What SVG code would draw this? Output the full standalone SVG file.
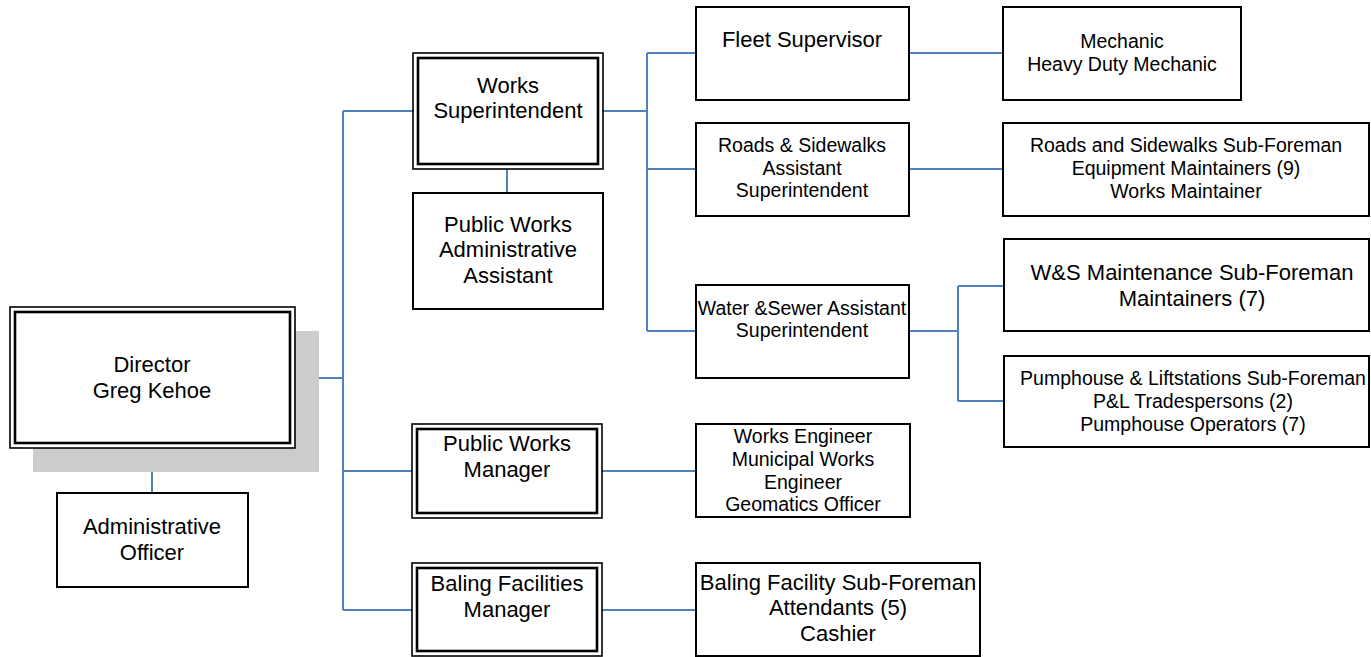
<svg xmlns="http://www.w3.org/2000/svg" width="1371" height="657" viewBox="0 0 1371 657">
<style>
.box{fill:#fff;stroke:#000;stroke-width:2}
.outer{fill:#fff;stroke:#000;stroke-width:1.6}
.inner{fill:none;stroke:#000;stroke-width:2.6}
.shadow{fill:#cccccc}
.c{fill:none;stroke:#4f81bd;stroke-width:2}
text{font-family:"Liberation Sans",Arial,sans-serif;fill:#000;text-anchor:middle}
.l{font-size:22px}
.m{font-size:19.5px}
</style>
<rect width="1371" height="657" fill="#fff"/>
<g id="connectors">
<path class="c" d="M295 378H343M343 111V610M343 111H413M343 471H412M343 610H412"/>
<path class="c" d="M152 448V493M507 169V193"/>
<path class="c" d="M603 111H647M647 53V331M647 53H696M647 169H696M647 331H696"/>
<path class="c" d="M909 53H1003M909 169H1003M909 331H958M958 286V401M958 286H1004M958 401H1004"/>
<path class="c" d="M602 471H696M602 610H696"/>
</g>
<g id="director">
<rect class="shadow" x="33" y="331" width="286" height="141"/>
<rect class="outer" x="10" y="307" width="285" height="141"/>
<rect class="inner" x="15" y="312" width="275" height="131"/>
<text class="l" x="152" y="372">Director</text>
<text class="l" x="152" y="398">Greg Kehoe</text>
</g>
<g id="admin-officer">
<rect class="box" x="57" y="493" width="191" height="94"/>
<text class="l" x="152" y="534">Administrative</text>
<text class="l" x="152" y="560">Officer</text>
</g>
<g id="works-superintendent">
<rect class="outer" x="413" y="53" width="190" height="116"/>
<rect class="inner" x="418" y="58" width="180" height="106"/>
<text class="l" x="508" y="93">Works</text>
<text class="l" x="508" y="118">Superintendent</text>
</g>
<g id="pw-admin-assistant">
<rect class="box" x="413" y="193" width="190" height="116"/>
<text class="l" x="508" y="232">Public Works</text>
<text class="l" x="508" y="257">Administrative</text>
<text class="l" x="508" y="283">Assistant</text>
</g>
<g id="pw-manager">
<rect class="outer" x="412" y="424" width="190" height="94"/>
<rect class="inner" x="417" y="429" width="180" height="84"/>
<text class="l" x="507" y="451">Public Works</text>
<text class="l" x="507" y="477">Manager</text>
</g>
<g id="baling-manager">
<rect class="outer" x="412" y="563" width="190" height="93"/>
<rect class="inner" x="417" y="568" width="180" height="83"/>
<text class="l" x="507" y="591">Baling Facilities</text>
<text class="l" x="507" y="617">Manager</text>
</g>
<g id="fleet-supervisor">
<rect class="box" x="696" y="7" width="213" height="93"/>
<text class="l" x="802" y="47">Fleet Supervisor</text>
</g>
<g id="roads-sidewalks">
<rect class="box" x="696" y="123" width="213" height="93"/>
<text class="m" x="802" y="152">Roads &amp; Sidewalks</text>
<text class="m" x="802" y="175">Assistant</text>
<text class="m" x="802" y="197">Superintendent</text>
</g>
<g id="water-sewer">
<rect class="box" x="696" y="285" width="213" height="93"/>
<text class="m" x="802" y="315">Water &amp;Sewer Assistant</text>
<text class="m" x="802" y="337">Superintendent</text>
</g>
<g id="works-engineer">
<rect class="box" x="696" y="424" width="214" height="93"/>
<text class="m" x="803" y="443">Works Engineer</text>
<text class="m" x="803" y="466">Municipal Works</text>
<text class="m" x="803" y="489">Engineer</text>
<text class="m" x="803" y="511">Geomatics Officer</text>
</g>
<g id="baling-subforeman">
<rect class="box" x="696" y="563" width="284" height="93"/>
<text class="l" x="838" y="590">Baling Facility Sub-Foreman</text>
<text class="l" x="838" y="615">Attendants (5)</text>
<text class="l" x="838" y="641">Cashier</text>
</g>
<g id="mechanic">
<rect class="box" x="1003" y="7" width="238" height="93"/>
<text class="m" x="1122" y="48">Mechanic</text>
<text class="m" x="1122" y="71">Heavy Duty Mechanic</text>
</g>
<g id="roads-subforeman">
<rect class="box" x="1003" y="123" width="366" height="93"/>
<text class="m" x="1186" y="152">Roads and Sidewalks Sub-Foreman</text>
<text class="m" x="1186" y="175">Equipment Maintainers (9)</text>
<text class="m" x="1186" y="198">Works Maintainer</text>
</g>
<g id="ws-maintenance">
<rect class="box" x="1004" y="239" width="365" height="92"/>
<text class="l" x="1192" y="280">W&amp;S Maintenance Sub-Foreman</text>
<text class="l" x="1192" y="306">Maintainers (7)</text>
</g>
<g id="pumphouse">
<rect class="box" x="1004" y="356" width="365" height="91"/>
<text class="m" x="1193" y="385">Pumphouse &amp; Liftstations Sub-Foreman</text>
<text class="m" x="1193" y="408">P&amp;L Tradespersons (2)</text>
<text class="m" x="1193" y="431">Pumphouse Operators (7)</text>
</g>
</svg>
